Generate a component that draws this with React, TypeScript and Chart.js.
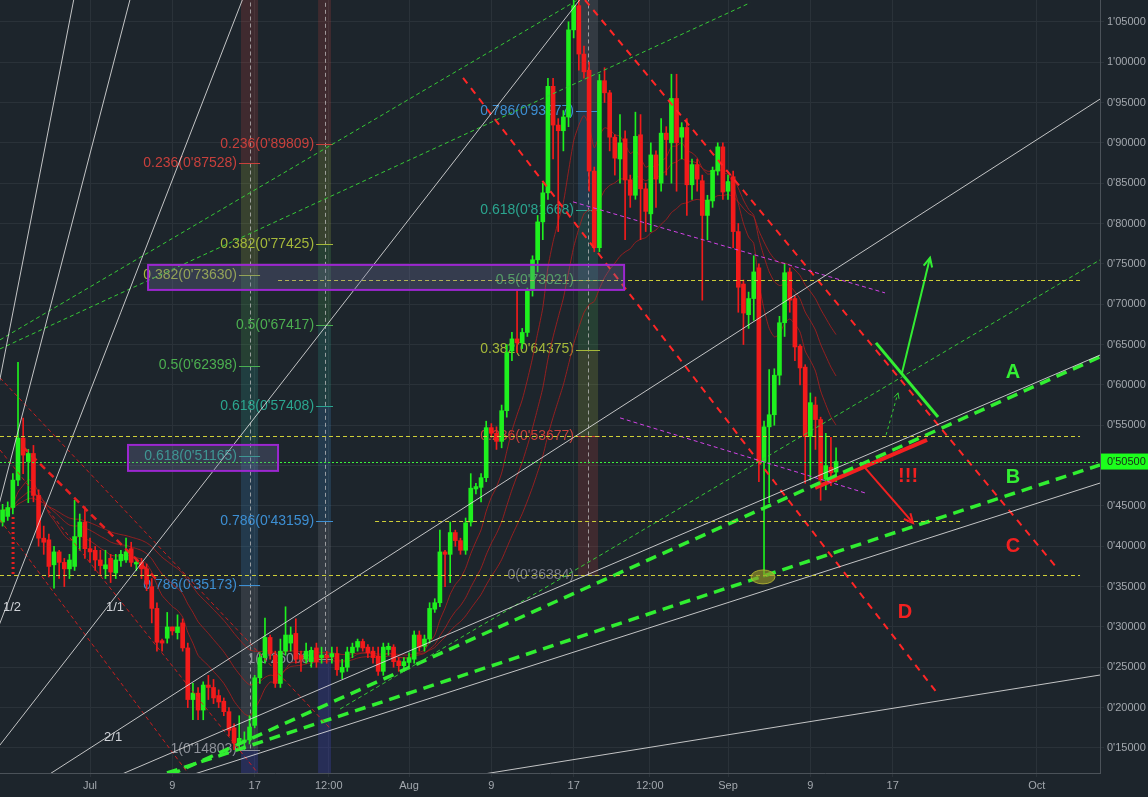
import React, { useEffect, useRef } from "react";
import { Chart, registerables } from "chart.js";

Chart.register(...registerables);

const W = 1148;
const H = 797;
const BG = "#1d252c";
const GREEN = "#1ef01e";
const RED = "#f21b1b";

// time axis: days counted from 1 July, one candle every 12 hours
const firstCandleDay = -8.5;
const candleStepDays = 0.5;

const opens = [
  0.43, 0.437, 0.448, 0.482, 0.534, 0.505, 0.515, 0.463, 0.41, 0.408,
  0.377, 0.393, 0.38, 0.372, 0.375, 0.412, 0.43, 0.397, 0.395, 0.383,
  0.372, 0.385, 0.367, 0.382, 0.383, 0.397, 0.378, 0.38, 0.372, 0.35,
  0.323, 0.283, 0.286, 0.3, 0.293, 0.305, 0.274, 0.21, 0.218, 0.197,
  0.228, 0.225, 0.215, 0.208, 0.195, 0.175, 0.155, 0.158, 0.16, 0.178,
  0.237, 0.262, 0.287, 0.265, 0.23, 0.27, 0.28, 0.292, 0.265, 0.26,
  0.257, 0.274, 0.262, 0.265, 0.263, 0.267, 0.244, 0.25, 0.268, 0.275,
  0.282, 0.275, 0.27, 0.264, 0.245, 0.272, 0.275, 0.258, 0.252, 0.256,
  0.26, 0.29, 0.276, 0.285, 0.322, 0.33, 0.393, 0.39, 0.417, 0.407,
  0.395, 0.43, 0.471, 0.473, 0.485, 0.547, 0.54, 0.53, 0.568, 0.642,
  0.657, 0.652, 0.665, 0.717, 0.755, 0.802, 0.838, 0.97, 0.922, 0.915,
  0.932, 1.04, 1.07, 1.01, 0.99, 0.865, 0.77, 0.977, 0.962, 0.907,
  0.88, 0.905, 0.854, 0.835, 0.91, 0.843, 0.812, 0.885, 0.85, 0.912,
  0.9, 0.955, 0.907, 0.919, 0.848, 0.873, 0.853, 0.81, 0.828, 0.865,
  0.895, 0.84, 0.858, 0.79, 0.725, 0.687, 0.707, 0.745, 0.505, 0.548,
  0.563, 0.612, 0.677, 0.74, 0.707, 0.648, 0.622, 0.536, 0.575, 0.557,
  0.483, 0.498, 0.492,
];
const highs = [
  0.452, 0.455, 0.49, 0.628, 0.559, 0.52, 0.525, 0.47, 0.425, 0.415,
  0.4, 0.395, 0.385, 0.39, 0.457, 0.44, 0.449, 0.41, 0.4, 0.395,
  0.395, 0.39, 0.39, 0.395, 0.41, 0.405, 0.385, 0.385, 0.378, 0.36,
  0.33, 0.285, 0.318, 0.3, 0.315, 0.31, 0.28, 0.23, 0.225, 0.232,
  0.24, 0.235, 0.222, 0.212, 0.2, 0.18, 0.19, 0.17, 0.19, 0.24,
  0.268, 0.311, 0.29, 0.27, 0.285, 0.325, 0.3, 0.31, 0.27, 0.28,
  0.275, 0.28, 0.275, 0.27, 0.275, 0.275, 0.26, 0.275, 0.28, 0.285,
  0.285, 0.278, 0.275, 0.275, 0.28, 0.28, 0.278, 0.262, 0.262, 0.268,
  0.295, 0.295, 0.29, 0.33, 0.335, 0.42, 0.395, 0.43, 0.42, 0.41,
  0.435, 0.49, 0.478, 0.49, 0.555, 0.552, 0.548, 0.575, 0.65, 0.665,
  0.717, 0.67, 0.72, 0.76, 0.81, 0.85, 0.98, 0.98, 0.93, 0.94,
  1.05, 1.09, 1.085, 1.02, 1.0, 0.87, 0.985, 0.993, 0.965, 0.91,
  0.935, 0.915, 0.86, 0.938, 0.935, 0.85, 0.9, 0.89, 0.93, 0.92,
  0.985, 0.985, 0.925, 0.93, 0.88, 0.88, 0.86, 0.835, 0.87, 0.9,
  0.9, 0.86, 0.865, 0.8, 0.73, 0.715, 0.76, 0.75, 0.555, 0.619,
  0.62, 0.685, 0.75, 0.745, 0.71, 0.65, 0.625, 0.59, 0.585, 0.56,
  0.54, 0.535, 0.522,
];
const lows = [
  0.425, 0.432, 0.44, 0.475, 0.49, 0.454, 0.455, 0.4, 0.39, 0.362,
  0.348, 0.36, 0.35, 0.36, 0.37, 0.395, 0.385, 0.38, 0.37, 0.365,
  0.36, 0.355, 0.36, 0.375, 0.38, 0.375, 0.37, 0.36, 0.345, 0.305,
  0.27, 0.27, 0.28, 0.29, 0.285, 0.27, 0.2, 0.185, 0.185, 0.185,
  0.21, 0.205, 0.2, 0.19, 0.165, 0.148, 0.148, 0.148, 0.155, 0.175,
  0.23, 0.255, 0.26, 0.225, 0.225, 0.265, 0.27, 0.255, 0.245, 0.255,
  0.25, 0.25, 0.255, 0.255, 0.255, 0.24, 0.236, 0.245, 0.262, 0.27,
  0.27, 0.262, 0.255, 0.24, 0.24, 0.265, 0.25, 0.245, 0.245, 0.25,
  0.255, 0.27, 0.27, 0.28, 0.318, 0.325, 0.35, 0.355, 0.4, 0.39,
  0.39, 0.425, 0.465, 0.455, 0.48, 0.535, 0.52, 0.522, 0.56, 0.63,
  0.64, 0.645, 0.66, 0.71, 0.74, 0.78, 0.83, 0.88, 0.79, 0.89,
  0.92, 1.03, 0.99, 0.98, 0.84, 0.765, 0.765, 0.95, 0.89, 0.86,
  0.85, 0.78, 0.82, 0.83, 0.78, 0.79, 0.79, 0.82, 0.84, 0.86,
  0.85, 0.84, 0.88, 0.81, 0.83, 0.84, 0.705, 0.78, 0.82, 0.86,
  0.83, 0.83, 0.77, 0.69, 0.65, 0.67, 0.68, 0.48, 0.362, 0.454,
  0.55, 0.6, 0.66, 0.69, 0.63, 0.6, 0.478, 0.482, 0.52, 0.457,
  0.47, 0.475, 0.48,
];
const closes = [
  0.445, 0.448, 0.482, 0.534, 0.513, 0.515, 0.463, 0.41, 0.405, 0.375,
  0.393, 0.38, 0.372, 0.383, 0.412, 0.43, 0.397, 0.393, 0.383, 0.376,
  0.377, 0.368, 0.383, 0.39, 0.393, 0.38, 0.38, 0.372, 0.353, 0.323,
  0.281, 0.28, 0.3, 0.295, 0.3, 0.274, 0.21, 0.218, 0.197, 0.228,
  0.225, 0.212, 0.207, 0.195, 0.172, 0.156, 0.162, 0.16, 0.176, 0.237,
  0.262, 0.287, 0.267, 0.23, 0.27, 0.29, 0.29, 0.26, 0.26, 0.27,
  0.271, 0.257, 0.265, 0.262, 0.267, 0.247, 0.25, 0.269, 0.275, 0.282,
  0.274, 0.268, 0.262, 0.245, 0.275, 0.276, 0.257, 0.252, 0.257, 0.262,
  0.29, 0.275, 0.285, 0.323, 0.33, 0.393, 0.39, 0.417, 0.407, 0.395,
  0.429, 0.472, 0.474, 0.485, 0.547, 0.54, 0.53, 0.568, 0.64, 0.657,
  0.652, 0.665, 0.717, 0.755, 0.802, 0.838, 0.97, 0.922, 0.915, 0.932,
  1.04, 1.07, 1.01, 0.988, 0.865, 0.77, 0.977, 0.962, 0.907, 0.881,
  0.9, 0.854, 0.835, 0.908, 0.843, 0.815, 0.885, 0.855, 0.912, 0.904,
  0.955, 0.9, 0.919, 0.848, 0.873, 0.855, 0.81, 0.829, 0.866, 0.895,
  0.839, 0.852, 0.79, 0.721, 0.689, 0.707, 0.74, 0.505, 0.548, 0.563,
  0.612, 0.677, 0.739, 0.705, 0.647, 0.621, 0.536, 0.578, 0.557, 0.482,
  0.5, 0.491, 0.505,
];
const lastPrice = 0.505;
const maPeriods = [10, 20, 34];

const xMin = -8.75;
const xMax = 98.15;
const yMin = 0.119;
const yMax = 1.077;
const xTickDays = [0, 8, 16, 23.2, 31, 39, 47, 54.4, 62, 70, 78, 92];
const xTickLabels = ["Jul", "9", "17", "12:00", "Aug", "9", "17", "12:00", "Sep", "9", "17", "Oct"];
const yTickValues = [
  0.15, 0.2, 0.25, 0.3, 0.35, 0.4, 0.45, 0.5, 0.55, 0.6,
  0.65, 0.7, 0.75, 0.8, 0.85, 0.9, 0.95, 1.0, 1.05,
];

// Fibonacci retracement tools (price at each ratio), narrow columns
const fibRatios = [0, 0.236, 0.382, 0.5, 0.618, 0.786, 1];
const fibColors = ["#787b86", "#c8403c", "#a5b83a", "#4caf50", "#2ba58f", "#3d8fd3", "#8d9199"];
const fibJulyPrices = [1.09993, 0.87528, 0.7363, 0.62398, 0.51165, 0.35173, 0.14803];
const fibJulyDays = [14.67, 16.33];
const fibAugPrices = [1.10818, 0.89809, 0.77425, 0.67417, 0.57408, 0.43159, 0.26008];
const fibAugDays = [22.16, 23.42];
const fibPeakPrices = [0.36384, 0.53677, 0.64375, 0.73021, 0.81668, 0.93977, 1.09658];
const fibPeakDays = [47.42, 49.37];

// Gann fan
const gannOrigin = [-17.98, 0.0025];
const gannOneToOne = 0.01639; // price per day
const gannRatios = [8, 4, 3, 2, 1, 1 / 2, 1 / 3, 1 / 4, 1 / 8];
const gannLabels = [
  { text: "1/2", day: -7.58, price: 0.3248 },
  { text: "1/1", day: 2.43, price: 0.3248 },
  { text: "2/1", day: 2.24, price: 0.1636 },
];

// drawn segments [day1, price1, day2, price2]
const redChannel = [
  [48.1, 1.077, 93.97, 0.3731],
  [36.25, 0.9805, 82.31, 0.2182],
];
const greenSupport = [
  [7.77, 0.1165, 98.15, 0.6347],
  [7.48, 0.119, 98.15, 0.5008],
];
const greenThin = [
  [-8.75, 0.6558, 47.38, 1.077],
  [-8.75, 0.6446, 64.14, 1.0735],
  [24.3, 0.1983, 98.15, 0.7549],
];
const magentaLines = [
  [46.94, 0.8268, 77.26, 0.714],
  [51.51, 0.5591, 75.32, 0.4661],
];
// horizontal levels [dayFrom, dayTo, price]
const yellowLevels = [
  [-8.75, 96.21, 0.53677],
  [18.27, 96.21, 0.73021],
  [27.7, 84.55, 0.43159],
  [-8.75, 96.21, 0.36384],
];
const leftRedThin = [
  [-8.75, 0.6087, 23.3, 0.1748],
  [-8.75, 0.5194, 16.3, 0.119],
  [-8.75, 0.4326, 9.5, 0.119],
];
const leftRedThick = [[-6.51, 0.5231, 6.51, 0.3583]];
const redDotted = [[-7.48, 0.4363, -7.48, 0.362]];
const redSolid = [[70.46, 0.4723, 81.34, 0.5318]];
const redArrow = [75.32, 0.4971, 79.98, 0.4289];
const greenSolid = [[76.38, 0.6521, 82.41, 0.5603]];
const greenArrow = [78.91, 0.6149, 81.63, 0.7575];
const greenThinArrow = [77.36, 0.538, 78.52, 0.5901];

// rectangles [day1, price1, day2, price2]
const purpleBoxes = [
  [5.64, 0.7487, 51.9, 0.7177],
  [3.69, 0.5256, 18.27, 0.4934],
];
const ellipseCenter = [65.4, 0.362];
const letterMarks = [
  { text: "A", day: 89.7, price: 0.6149, color: "#33ee33" },
  { text: "B", day: 89.7, price: 0.4847, color: "#33ee33" },
  { text: "C", day: 89.7, price: 0.3992, color: "#f22020" },
  { text: "D", day: 79.2, price: 0.3174, color: "#f22020" },
  { text: "!!!", day: 79.5, price: 0.486, color: "#f22020" },
];

const fmtPrice = (v: number) => v.toFixed(5).replace(".", "'");

function segDataset(seg: number[], color: string, width: number, dash: number[]) {
  return {
    type: "line" as const,
    data: [
      { x: seg[0], y: seg[1] },
      { x: seg[2], y: seg[3] },
    ],
    borderColor: color,
    borderWidth: width,
    borderDash: dash,
    pointRadius: 0,
    fill: false,
    tension: 0,
    order: 0,
  };
}

function ema(values: number[], period: number) {
  const k = 2 / (period + 1);
  const out: number[] = [];
  values.forEach((v, i) => {
    out.push(i === 0 ? v : v * k + out[i - 1] * (1 - k));
  });
  return out;
}

function arrowHead(ctx: CanvasRenderingContext2D, x1: number, y1: number, x2: number, y2: number, len: number) {
  const a = Math.atan2(y2 - y1, x2 - x1);
  ctx.beginPath();
  ctx.moveTo(x2 - len * Math.cos(a - 0.45), y2 - len * Math.sin(a - 0.45));
  ctx.lineTo(x2, y2);
  ctx.lineTo(x2 - len * Math.cos(a + 0.45), y2 - len * Math.sin(a + 0.45));
  ctx.stroke();
}

const overlayPlugin = {
  id: "overlay",
  beforeDatasetsDraw(chart: any) {
    const { ctx, chartArea, scales } = chart;
    const x = scales.x;
    const y = scales.y;
    ctx.save();
    ctx.beginPath();
    ctx.rect(chartArea.left, chartArea.top, chartArea.width, chartArea.height);
    ctx.clip();
    const tools = [
      { prices: fibJulyPrices, days: fibJulyDays, base: true },
      { prices: fibAugPrices, days: fibAugDays, base: true },
      { prices: fibPeakPrices, days: fibPeakDays, base: false },
    ];
    tools.forEach((t) => {
      const x0 = x.getPixelForValue(t.days[0]);
      const x1 = x.getPixelForValue(t.days[1]);
      for (let i = 0; i < t.prices.length - 1; i++) {
        const ya = y.getPixelForValue(t.prices[i]);
        const yb = y.getPixelForValue(t.prices[i + 1]);
        ctx.globalAlpha = 0.2;
        ctx.fillStyle = fibColors[i + 1];
        ctx.fillRect(x0, Math.min(ya, yb), x1 - x0, Math.abs(yb - ya));
      }
      if (t.base) {
        const yl = y.getPixelForValue(t.prices[t.prices.length - 1]);
        ctx.globalAlpha = 0.35;
        ctx.fillStyle = "#3b3fa8";
        ctx.fillRect(x0, yl, x1 - x0, chartArea.bottom - yl);
      }
      ctx.globalAlpha = 1;
      const xm = Math.round((x0 + x1) / 2) + 0.5;
      ctx.strokeStyle = "rgba(200,200,200,0.7)";
      ctx.lineWidth = 1;
      ctx.setLineDash([4, 3]);
      ctx.beginPath();
      ctx.moveTo(xm, y.getPixelForValue(t.prices[0]));
      ctx.lineTo(xm, y.getPixelForValue(t.prices[t.prices.length - 1]));
      ctx.stroke();
      ctx.setLineDash([]);
      t.prices.forEach((p, i) => {
        const py = y.getPixelForValue(p);
        if (py < chartArea.top + 4 || py > chartArea.bottom - 2) return;
        ctx.strokeStyle = fibColors[i];
        ctx.lineWidth = 1;
        ctx.beginPath();
        ctx.moveTo(x0 - 2, Math.round(py) + 0.5);
        ctx.lineTo(x1 + 2, Math.round(py) + 0.5);
        ctx.stroke();
        ctx.fillStyle = fibColors[i];
        ctx.font = "14px 'Liberation Sans', Arial, sans-serif";
        ctx.textAlign = "right";
        ctx.textBaseline = "middle";
        ctx.fillText(`${fibRatios[i]}(${fmtPrice(p)})`, x0 - 4, py);
      });
    });
    ctx.restore();
  },
  afterDatasetsDraw(chart: any) {
    const { ctx, chartArea, scales } = chart;
    const x = scales.x;
    const y = scales.y;
    ctx.save();
    ctx.beginPath();
    ctx.rect(chartArea.left, chartArea.top, chartArea.width, chartArea.height);
    ctx.clip();
    // crisp horizontal levels
    const hline = (d0: number, d1: number, p: number, color: string, dash: number[]) => {
      const py = Math.round(y.getPixelForValue(p)) + 0.5;
      ctx.strokeStyle = color;
      ctx.lineWidth = 1;
      ctx.setLineDash(dash);
      ctx.beginPath();
      ctx.moveTo(x.getPixelForValue(d0), py);
      ctx.lineTo(x.getPixelForValue(d1), py);
      ctx.stroke();
    };
    yellowLevels.forEach((l) => hline(l[0], l[1], l[2], "#cfcf38", [4, 3]));
    hline(xMin, xMax, lastPrice, "#3cf03c", [2, 2]);
    ctx.setLineDash([]);
    purpleBoxes.forEach((b) => {
      const x0 = x.getPixelForValue(b[0]);
      const x1 = x.getPixelForValue(b[2]);
      const y0 = y.getPixelForValue(b[1]);
      const y1 = y.getPixelForValue(b[3]);
      ctx.fillStyle = "rgba(110,115,160,0.3)";
      ctx.fillRect(x0, y0, x1 - x0, y1 - y0);
      ctx.strokeStyle = "#9c27d0";
      ctx.lineWidth = 2;
      ctx.strokeRect(x0, y0, x1 - x0, y1 - y0);
    });
    const ex = x.getPixelForValue(ellipseCenter[0]);
    const ey = y.getPixelForValue(ellipseCenter[1]);
    ctx.beginPath();
    ctx.ellipse(ex, ey, 12, 7, 0, 0, Math.PI * 2);
    ctx.fillStyle = "rgba(150,150,40,0.65)";
    ctx.fill();
    ctx.strokeStyle = "rgba(190,190,50,0.8)";
    ctx.lineWidth = 1;
    ctx.stroke();
    const ah = (s: number[], color: string, w: number, len: number) => {
      ctx.strokeStyle = color;
      ctx.lineWidth = w;
      ctx.setLineDash([]);
      arrowHead(
        ctx,
        x.getPixelForValue(s[0]),
        y.getPixelForValue(s[1]),
        x.getPixelForValue(s[2]),
        y.getPixelForValue(s[3]),
        len
      );
    };
    ah(redArrow, "#f22020", 2, 10);
    ah(greenArrow, "#33ee33", 2, 10);
    ah(greenThinArrow, "#33cc33", 1, 6);
    letterMarks.forEach((m) => {
      ctx.fillStyle = m.color;
      ctx.font = "bold 20px 'Liberation Sans', Arial, sans-serif";
      ctx.textAlign = "center";
      ctx.textBaseline = "middle";
      ctx.fillText(m.text, x.getPixelForValue(m.day), y.getPixelForValue(m.price));
    });
    gannLabels.forEach((g) => {
      ctx.fillStyle = "#d0d3d8";
      ctx.font = "13px 'Liberation Sans', Arial, sans-serif";
      ctx.textAlign = "center";
      ctx.textBaseline = "middle";
      ctx.fillText(g.text, x.getPixelForValue(g.day), y.getPixelForValue(g.price));
    });
    ctx.restore();
  },
  afterDraw(chart: any) {
    const { ctx, chartArea, scales } = chart;
    const y = scales.y;
    const py = y.getPixelForValue(lastPrice);
    ctx.save();
    ctx.fillStyle = "#1cff1c";
    ctx.fillRect(chartArea.right + 1, py - 8, W - chartArea.right - 1, 16);
    ctx.fillStyle = "#1b2a1b";
    ctx.font = "11px 'Liberation Sans', Arial, sans-serif";
    ctx.textAlign = "left";
    ctx.textBaseline = "middle";
    ctx.fillText(fmtPrice(lastPrice), chartArea.right + 7, py + 0.5);
    ctx.restore();
  },
};

export default function App() {
  const ref = useRef<HTMLCanvasElement>(null);
  useEffect(() => {
    const canvas = ref.current;
    if (!canvas) return;
    const days = opens.map((_, i) => firstCandleDay + i * candleStepDays);
    const colors = opens.map((o, i) => (closes[i] >= o ? GREEN : RED));
    const bodies = days.map((d, i) => ({ x: d, y: [opens[i], closes[i]] }));
    const wicks = days.map((d, i) => ({ x: d, y: [lows[i], highs[i]] }));

    const datasets: any[] = [];
    gannRatios.forEach((r) => {
      const slope = gannOneToOne * r;
      const endDay = Math.min(xMax, gannOrigin[0] + (1.3 - gannOrigin[1]) / slope);
      datasets.push(
        segDataset(
          [gannOrigin[0], gannOrigin[1], endDay, gannOrigin[1] + slope * (endDay - gannOrigin[0])],
          "rgba(225,225,225,0.85)",
          1,
          []
        )
      );
    });
    leftRedThin.forEach((s) => datasets.push(segDataset(s, "rgba(220,30,30,0.9)", 1, [4, 3])));
    leftRedThick.forEach((s) => datasets.push(segDataset(s, "#e82020", 2.5, [7, 5])));
    redDotted.forEach((s) => datasets.push(segDataset(s, "#e82020", 3, [2, 3])));
    greenThin.forEach((s) => datasets.push(segDataset(s, "#36c936", 1, [4, 3])));
    magentaLines.forEach((s) => datasets.push(segDataset(s, "#d443e8", 1, [4, 3])));
    redChannel.forEach((s) => datasets.push(segDataset(s, "#ff2626", 2, [7, 6])));
    greenSupport.forEach((s) => datasets.push(segDataset(s, "#31ee31", 3.5, [11, 7])));
    redSolid.forEach((s) => datasets.push(segDataset(s, "#f22020", 4, [])));
    datasets.push(segDataset(redArrow, "#f22020", 2, []));
    greenSolid.forEach((s) => datasets.push(segDataset(s, "#33ee33", 3, [])));
    datasets.push(segDataset(greenArrow, "#33ee33", 2, []));
    datasets.push(segDataset(greenThinArrow, "#33cc33", 1, [3, 3]));

    maPeriods.forEach((p) => {
      const m = ema(closes, p);
      datasets.push({
        type: "line",
        data: days.map((d, i) => ({ x: d, y: m[i] })),
        borderColor: "rgba(170,30,30,0.85)",
        borderWidth: 1,
        pointRadius: 0,
        fill: false,
        tension: 0.2,
        order: 6,
      });
    });

    datasets.push({
      type: "bar",
      data: wicks,
      backgroundColor: colors,
      barThickness: 1,
      grouped: false,
      order: 4,
    });
    datasets.push({
      type: "bar",
      data: bodies,
      backgroundColor: colors,
      barThickness: 4,
      minBarLength: 1,
      grouped: false,
      order: 3,
    });

    const chart = new Chart(canvas, {
      type: "bar",
      data: { datasets },
      plugins: [overlayPlugin],
      options: {
        responsive: false,
        animation: false,
        layout: { padding: 0 },
        plugins: { legend: { display: false }, tooltip: { enabled: false } },
        scales: {
          x: {
            type: "linear",
            min: xMin,
            max: xMax,
            offset: false,
            afterBuildTicks: (axis: any) => {
              axis.ticks = xTickDays.map((v) => ({ value: v }));
            },
            afterFit: (axis: any) => {
              axis.height = 24;
              axis.paddingLeft = 0;
              axis.paddingRight = 0;
              axis.paddingTop = 0;
              axis.paddingBottom = 0;
            },
            ticks: {
              autoSkip: false,
              maxRotation: 0,
              color: "#a3a8ae",
              font: { family: "'Liberation Sans', Arial, sans-serif", size: 11 },
              padding: 2,
              callback: (_v: any, i: number) => xTickLabels[i],
            },
            grid: { color: "#2a3239", tickLength: 4, offset: false },
            border: { color: "#4b5259" },
          },
          y: {
            type: "linear",
            position: "right",
            min: yMin,
            max: yMax,
            afterBuildTicks: (axis: any) => {
              axis.ticks = yTickValues.map((v) => ({ value: v }));
            },
            afterFit: (axis: any) => {
              axis.width = 48;
              axis.paddingTop = 0;
              axis.paddingBottom = 0;
              axis.paddingLeft = 0;
              axis.paddingRight = 0;
            },
            ticks: {
              color: "#a3a8ae",
              font: { family: "'Liberation Sans', Arial, sans-serif", size: 11 },
              padding: 3,
              callback: (v: any) => fmtPrice(Number(v)),
            },
            grid: { color: "#2a3239", tickLength: 4 },
            border: { color: "#4b5259" },
          },
        },
      } as any,
    } as any);
    return () => chart.destroy();
  }, []);

  return (
    <div style={{ position: "fixed", left: 0, top: 0, width: W, height: H, background: BG }}>
      <canvas ref={ref} width={W} height={H} style={{ display: "block", width: W, height: H }} />
    </div>
  );
}
